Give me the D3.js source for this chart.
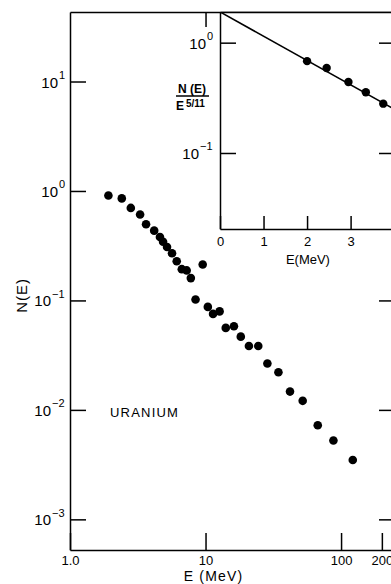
<!DOCTYPE html>
<html>
<head>
<meta charset="utf-8">
<script src="https://cdn.jsdelivr.net/npm/d3@7"></script>
<style>
  body { margin: 0; background: #fff; }
  svg { display: block; font-family: "Liberation Sans", Arial, sans-serif; }
</style>
</head>
<body>
<svg id="chart"></svg>
<script>
// main plot: spectrum N(E) vs E (MeV), uranium
const energy = [1.92, 2.41, 2.81, 3.29, 3.64, 4.18, 4.61, 4.86, 5.20, 5.66, 6.13, 6.68, 7.26, 7.79, 9.53,
                8.44, 10.4, 11.36, 12.7, 14.1, 16.2, 18.2, 20.9, 24.5, 28.6, 34.5, 42.0, 52.1, 67.3, 87.8, 122];
const yieldN = [0.91, 0.855, 0.70, 0.61, 0.497, 0.434, 0.38, 0.344, 0.308, 0.27, 0.228, 0.193, 0.188, 0.16, 0.213,
                0.102, 0.0873, 0.0753, 0.0794, 0.0561, 0.058, 0.0467, 0.0384, 0.0384, 0.0265, 0.0221, 0.0147, 0.0121, 0.00725, 0.00525, 0.00349];

// inset: N(E)/E^(5/11) vs E (MeV)
const insetEnergy = [2.0, 2.45, 2.95, 3.35, 3.75];
const insetRatio = [0.68, 0.59, 0.44, 0.355, 0.28];
const fitEnergy = [0, 4.0];
const fitRatio = [1.9, 0.25];

const mainYTicks = [1e1, 1e0, 1e-1, 1e-2, 1e-3];
const mainXTicks = [1, 10, 100, 200];
const insetYTicks = [1e0, 1e-1];
const insetXTicks = [0, 1, 2, 3];

const width = 391, height = 584;
const svg = d3.select('#chart').attr('width', width).attr('height', height);

const x = d3.scaleLog().domain([1, 250]).range([70, 395]);
const y = d3.scaleLog().domain([Math.pow(10, -3.28), Math.pow(10, 1.635)]).range([550, 12]);

function styleAxis(g) {
    g.attr('font-family', null).attr('font-size', 13);
    g.selectAll('path, line').attr('stroke', '#000').attr('stroke-width', 1.5);
    g.selectAll('text').attr('fill', '#000');
}

// main axes (ticks drawn inward)
svg.append('g').attr('transform', 'translate(70,0)')
    .call(d3.axisLeft(y).tickValues(mainYTicks).tickSize(-16).tickSizeOuter(0).tickFormat(''))
    .call(styleAxis);
svg.append('g').attr('transform', 'translate(395,0)')
    .call(d3.axisRight(y).tickValues(mainYTicks).tickSize(-16).tickSizeOuter(0).tickFormat(''))
    .call(styleAxis);
svg.append('g').attr('transform', 'translate(0,550)')
    .call(d3.axisBottom(x).tickValues(mainXTicks).tickSize(-17).tickSizeOuter(0).tickPadding(6)
        .tickFormat(d => d === 1 ? '1.0' : String(d)))
    .call(styleAxis);
svg.append('g').attr('transform', 'translate(0,12)')
    .call(d3.axisTop(x).tickValues([10, 100]).tickSize(-15).tickSizeOuter(0).tickFormat(''))
    .call(styleAxis);

// y tick labels 10^n
function powerLabel(g, px, py, exp, size, supSize) {
    const neg = exp < 0;
    const baseEnd = neg ? px - 7 : px;
    g.append('text').attr('x', baseEnd).attr('y', py).attr('text-anchor', 'end')
        .attr('font-size', size).text('10');
    g.append('text').attr('x', baseEnd + 1).attr('y', py - 8.5)
        .attr('font-size', supSize).text(neg ? '\u2212' + (-exp) : String(exp));
}
const mainLabels = svg.append('g');
mainYTicks.forEach(v => powerLabel(mainLabels, 58, y(v) + 6, Math.round(Math.log10(v)), 15, 11));

svg.append('text')
    .attr('transform', `translate(27,${y(0.1) - 5}) rotate(-90)`)
    .attr('text-anchor', 'middle').attr('font-size', 15).attr('letter-spacing', 1)
    .text('N(E)');

svg.append('text').attr('x', x(10) + 8).attr('y', 581).attr('text-anchor', 'middle')
    .attr('font-size', 14).attr('letter-spacing', 1.2).text('E (MeV)');

svg.append('text').attr('x', 110).attr('y', 416.5).attr('font-size', 13)
    .attr('letter-spacing', 1.2).text('URANIUM');

svg.append('g').selectAll('circle').data(energy).join('circle')
    .attr('cx', d => x(d))
    .attr('cy', (d, i) => y(yieldN[i]))
    .attr('r', 4.3)
    .attr('fill', '#000');

// inset
const ix = d3.scaleLinear().domain([0, 4.02]).range([220, 395]);
const iy = d3.scaleLog().domain([Math.pow(10, -1.689), Math.pow(10, 0.278)]).range([229, 12]);

svg.append('rect').attr('x', 220).attr('y', 12).attr('width', 175).attr('height', 217).attr('fill', '#fff');
svg.append('clipPath').attr('id', 'insetClip')
    .append('rect').attr('x', 220).attr('y', 12).attr('width', 175).attr('height', 217);

svg.append('g').attr('transform', 'translate(220,0)')
    .call(d3.axisLeft(iy).tickValues(insetYTicks).tickSize(-16).tickSizeOuter(0).tickFormat(''))
    .call(styleAxis);
svg.append('g').attr('transform', 'translate(395,0)')
    .call(d3.axisRight(iy).tickValues(insetYTicks).tickSize(-16).tickSizeOuter(0).tickFormat(''))
    .call(styleAxis);
svg.append('g').attr('transform', 'translate(0,229)')
    .call(d3.axisBottom(ix).tickValues(insetXTicks).tickSize(-13).tickSizeOuter(0).tickPadding(8)
        .tickFormat(d3.format('d')))
    .call(styleAxis);
svg.append('g').attr('transform', 'translate(0,12)')
    .call(d3.axisTop(ix).tickValues([]).tickSizeOuter(0))
    .call(styleAxis);

const insetLabels = svg.append('g');
insetYTicks.forEach(v => powerLabel(insetLabels, 206, iy(v) + 6, Math.round(Math.log10(v)), 15, 11));

svg.append('text').attr('x', ix(2.02)).attr('y', 264).attr('text-anchor', 'middle')
    .attr('font-size', 13).text('E(MeV)');

// inset y title as a fraction
const frac = svg.append('g').attr('font-weight', 'bold');
frac.append('text').attr('x', 192).attr('y', 93).attr('text-anchor', 'middle')
    .attr('font-size', 12).text('N (E)');
frac.append('line').attr('x1', 176).attr('x2', 209).attr('y1', 96).attr('y2', 96)
    .attr('stroke', '#000').attr('stroke-width', 1.5);
const den = frac.append('text').attr('x', 176).attr('y', 110).attr('font-size', 12);
den.append('tspan').text('E');
den.append('tspan').attr('dx', 2).attr('dy', -3).attr('font-size', 10).text('5/11');

const fitLine = d3.line().x(d => ix(d)).y((d, i) => iy(fitRatio[i]));
const inner = svg.append('g').attr('clip-path', 'url(#insetClip)');
inner.append('path').datum(fitEnergy).attr('d', fitLine)
    .attr('fill', 'none').attr('stroke', '#000').attr('stroke-width', 1.6);
inner.selectAll('circle').data(insetEnergy).join('circle')
    .attr('cx', d => ix(d))
    .attr('cy', (d, i) => iy(insetRatio[i]))
    .attr('r', 4.2)
    .attr('fill', '#000');
</script>
</body>
</html>
